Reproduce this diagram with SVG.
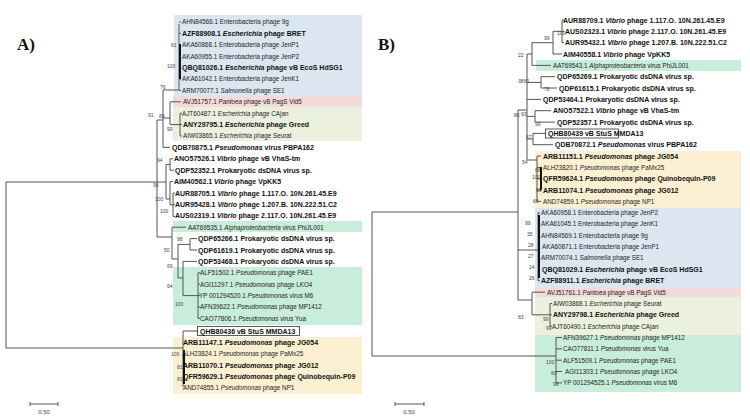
<svg xmlns="http://www.w3.org/2000/svg" width="750" height="419" viewBox="0 0 750 419">
<style>
.t{font-family:"Liberation Sans",Arial,sans-serif;font-size:6.3px;fill:#222}
.b{font-family:"Liberation Sans",Arial,sans-serif;font-size:7px;font-weight:bold;fill:#111}
.n{font-family:"Liberation Sans",Arial,sans-serif;font-size:5px;fill:#444}
.h{font-family:"Liberation Serif","Times New Roman",serif;font-size:17px;font-weight:bold;fill:#111}
.s{font-family:"Liberation Sans",Arial,sans-serif;font-size:6px;fill:#444}
.e{fill:none;stroke:#555;stroke-width:1}
.k{fill:none;stroke:#111;stroke-width:2}
.bx{fill:none;stroke:#333;stroke-width:0.8}
</style>
<rect width="750" height="419" fill="#fff"/>
<g id="clades">
<rect x="174" y="15" width="188" height="81" fill="#dce6f1"/>
<rect x="173" y="96" width="189" height="11" fill="#f2dcdb"/>
<rect x="173" y="107" width="189" height="34" fill="#ebf1de"/>
<rect x="173" y="221" width="189" height="11" fill="#c8eedb"/>
<rect x="173" y="267" width="189" height="58" fill="#c8eedb"/>
<rect x="173" y="337" width="189" height="57" fill="#fdf0d2"/>
<rect x="536" y="60" width="205" height="11" fill="#c8eedb"/>
<rect x="535" y="151" width="206" height="57" fill="#fdf0d2"/>
<rect x="535" y="208" width="206" height="80" fill="#dce6f1"/>
<rect x="535" y="288" width="206" height="9" fill="#f2dcdb"/>
<rect x="535" y="297" width="206" height="38" fill="#ebf1de"/>
<rect x="535" y="335" width="206" height="57" fill="#c8eedb"/>
</g>
<g id="connectors">
<path class="e" d="M6 182V348M6 182H157M6 348H183M157 120V237M157 120H163M163 90V147.4M163 90H179M179 24V90M179 22H181M179 33.4H181M179 44.8H181M179 56.2H181M179 67.6H181M179 79H181M179 90.4H181M163 118H170M170 101.8V124.6M170 101.8H181M170 124.6H180M180 113.2V136M180 113.2H182M180 124.6H182M180 136H182M163 147.4H170M157 182H166M166 164.5V199M166 164.5H170M170 158.8V170.2M170 158.8H173M170 170.2H174M166 199H170M170 181.6V204.8M170 181.6H173M170 204.8H173M173 193.2V216.4M173 193.2H175M173 204.6H175M173 216.4H175M157 237H172M172 227.2V259M172 227.2H186M172 259H178M178 244.4V278M178 244.4H190M190 238.6V250M190 238.6H197M190 250H197M178 278H183M183 261.4V295.6M183 261.4H197M183 295.6H198M198 272.8V318.4M198 272.8H200M198 284.2H200M198 295.6H200M198 307H200M198 318.4H200M183 331V387M183 331H198"/>
<path class="k" d="M180 44V79M184 350V384"/>
<path class="e" d="M372 212V356M372 212H518M372 356H556M556 337.5V382.9M556 337.5H562M556 348.9H562M556 360.2H562M556 371.5H562M556 382.9H562M518 110V300M518 110H527M527 54V160M527 54H532M532 42.7V65.4M532 42.7H553M553 31.3V54M553 31.3H562M562 20V42.7M562 20H564M562 31.3H564M562 42.7H564M553 54H562M532 65.4H551M527 82.4H541M541 76.7V88M541 76.7H555M541 88H557M527 99.4H541M527 116.4H535M535 110.7V122.1M535 110.7H551M535 122.1H555M527 139H533M533 133.4V144.7M533 133.4H545M533 144.7H553M527 160H537M537 156.1V201.4M537 156.1H541M537 167.4H541M537 178.8H541M537 190.1H541M537 201.4H541M518 250H538M538 212.8V280.8M538 212.8H540M538 280.8H540M518 300H532M532 292.2V314.8M532 292.2H545M532 314.8H550M550 303.5V326.2M550 303.5H552M550 314.8H552M550 326.2H552"/>
<path class="k" d="M541 167V190M539 215V278"/>
</g>
<g id="labels-A">
<text class="h" x="17" y="50">A)</text>
<g id="a0"><text class="t" x="182" y="24.3">AHN84566.1 Enterobacteria phage 9g</text></g>
<g id="a1"><text class="b" x="182" y="35.8">AZF88908.1 <tspan font-style="italic">Escherichia</tspan> phage BRET</text></g>
<g id="a2"><text class="t" x="182" y="47.1">AKA60868.1 Enterobacteria phage JenP1</text></g>
<g id="a3"><text class="t" x="182" y="58.5">AKA60955.1 Enterobacteria phage JenP2</text></g>
<g id="a4"><text class="b" x="182" y="70.1">QBQ81026.1 <tspan font-style="italic">Escherichia</tspan> phage vB EcoS HdSG1</text></g>
<g id="a5"><text class="t" x="182" y="81.3">AKA61042.1 Enterobacteria phage JenK1</text></g>
<g id="a6"><text class="t" x="182" y="92.7">ARM70077.1 <tspan font-style="italic">Salmonella</tspan> phage SE1</text></g>
<g id="a7"><text class="t" x="183" y="104.1">AVJ51757.1 <tspan font-style="italic">Pantoea</tspan> phage vB PagS Vid5</text></g>
<g id="a8"><text class="t" x="182" y="115.5">AJT60487.1 <tspan font-style="italic">Escherichia</tspan> phage CAjan</text></g>
<g id="a9"><text class="b" x="183" y="127.1">ANY29795.1 <tspan font-style="italic">Escherichia</tspan> phage Greed</text></g>
<g id="a10"><text class="t" x="183" y="138.3">AIW03865.1 <tspan font-style="italic">Escherichia</tspan> phage Seurat</text></g>
<g id="a11"><text class="b" x="172" y="149.9">QDB70875.1 <tspan font-style="italic">Pseudomonas</tspan> virus PBPA162</text></g>
<g id="a12"><text class="b" x="174" y="161.3">ANO57526.1 <tspan font-style="italic">Vibrio</tspan> phage vB VhaS-tm</text></g>
<g id="a13"><text class="b" x="175" y="172.7">QDP52352.1 Prokaryotic dsDNA virus sp.</text></g>
<g id="a14"><text class="b" x="174" y="184.1">AIM40562.1 <tspan font-style="italic">Vibrio</tspan> phage VpKK5</text></g>
<g id="a15"><text class="b" x="175" y="195.5">AUR88705.1 <tspan font-style="italic">Vibrio</tspan> phage 1.117.O. 10N.261.45.E9</text></g>
<g id="a16"><text class="b" x="175" y="206.9">AUR95428.1 <tspan font-style="italic">Vibrio</tspan> phage 1.207.B. 10N.222.51.C2</text></g>
<g id="a17"><text class="b" x="175" y="218.3">AUS02319.1 <tspan font-style="italic">Vibrio</tspan> phage 2.117.O. 10N.261.45.E9</text></g>
<g id="a18"><text class="t" x="188" y="229.5">AAT69535.1 <tspan font-style="italic">Alphaproteobacteria</tspan> virus PhiJL001</text></g>
<g id="a19"><text class="b" x="198" y="241.1">QDP65266.1 Prokaryotic dsDNA virus sp.</text></g>
<g id="a20"><text class="b" x="198" y="252.5">QDP61619.1 Prokaryotic dsDNA virus sp.</text></g>
<g id="a21"><text class="b" x="198" y="263.9">QDP53468.1 Prokaryotic dsDNA virus sp.</text></g>
<g id="a22"><text class="t" x="200" y="275.1">ALF51502.1 <tspan font-style="italic">Pseudomonas</tspan> phage PAE1</text></g>
<g id="a23"><text class="t" x="200" y="286.5">AGI11297.1 <tspan font-style="italic">Pseudomonas</tspan> phage LKO4</text></g>
<g id="a24"><text class="t" x="199" y="297.9">YP 001294520.1 <tspan font-style="italic">Pseudomonas</tspan> virus M6</text></g>
<g id="a25"><text class="t" x="200" y="309.3">AFN39622.1 <tspan font-style="italic">Pseudomonas</tspan> phage MP1412</text></g>
<g id="a26"><text class="t" x="200" y="320.7">CAO77806.1 <tspan font-style="italic">Pseudomonas</tspan> virus Yua</text></g>
<g id="a27"><rect class="bx" x="197.5" y="326.5" width="102" height="9"/><text class="b" x="200" y="333.5">QHB80436 vB StuS MMDA13</text></g>
<g id="a28"><text class="b" x="183" y="344.9">ARB11147.1 <tspan font-style="italic">Pseudomonas</tspan> phage JG054</text></g>
<g id="a29"><text class="t" x="182" y="356.1">ALH23824.1 <tspan font-style="italic">Pseudomonas</tspan> phage PaMx25</text></g>
<g id="a30"><text class="b" x="183" y="367.7">ARB11070.1 <tspan font-style="italic">Pseudomonas</tspan> phage JG012</text></g>
<g id="a31"><text class="b" x="183" y="379.1">QFR59629.1 <tspan font-style="italic">Pseudomonas</tspan> phage Quinobequin-P09</text></g>
<g id="a32"><text class="t" x="183" y="390.3">AND74855.1 <tspan font-style="italic">Pseudomonas</tspan> phage NP1</text></g>
</g>
<g id="support-A" class="n">
<text x="171" y="47">81</text><text x="167" y="68">100</text><text x="160" y="89">76</text><text x="148" y="117">91</text><text x="159" y="118">89</text><text x="167" y="131">99</text><text x="157" y="162">94</text><text x="153" y="187">96</text><text x="155" y="201">100</text><text x="160" y="213">100</text><text x="177" y="241">98</text><text x="164" y="252">50</text><text x="167" y="268">69</text><text x="167" y="288">64</text><text x="175" y="306">100</text><text x="171" y="356">100</text><text x="177" y="369">81</text><text x="177" y="381">81</text>
</g>
<g id="labels-B">
<text class="h" x="378" y="50">B)</text>
<g id="b0"><text class="b" x="563" y="22.5">AUR88709.1 <tspan font-style="italic">Vibrio</tspan> phage 1.117.O. 10N.261.45.E9</text></g>
<g id="b1"><text class="b" x="565" y="33.8">AUS02323.1 <tspan font-style="italic">Vibrio</tspan> phage 2.117.O. 10N.261.45.E9</text></g>
<g id="b2"><text class="b" x="565" y="45.2">AUR95432.1 <tspan font-style="italic">Vibrio</tspan> phage 1.207.B. 10N.222.51.C2</text></g>
<g id="b3"><text class="b" x="563" y="56.5">AIM40558.1  <tspan font-style="italic">Vibrio</tspan> phage VpKK5</text></g>
<g id="b4"><text class="t" x="553" y="67.7">AAT69543.1 <tspan font-style="italic">Alphaproteobacteria</tspan> virus PhiJL001</text></g>
<g id="b5"><text class="b" x="557" y="79.2">QDP65269.1 Prokaryotic dsDNA virus sp.</text></g>
<g id="b6"><text class="b" x="559" y="90.5">QDP61615.1 Prokaryotic dsDNA virus sp.</text></g>
<g id="b7"><text class="b" x="543" y="101.9">QDP53464.1 Prokaryotic dsDNA virus sp.</text></g>
<g id="b8"><text class="b" x="553" y="113.2">ANO57522.1 <tspan font-style="italic">Vibrio</tspan> phage vB VhaS-tm</text></g>
<g id="b9"><text class="b" x="557" y="124.6">QDP52357.1 Prokaryotic dsDNA virus sp.</text></g>
<g id="b10"><rect class="bx" x="545.5" y="129" width="73" height="9"/><text class="b" x="548" y="135.9">QHB80439 vB StuS MMDA13</text></g>
<g id="b11"><text class="b" x="555" y="147.2">QDB70872.1 <tspan font-style="italic">Pseudomonas</tspan> virus PBPA162</text></g>
<g id="b12"><text class="b" x="543" y="158.6">ARB11151.1 <tspan font-style="italic">Pseudomonas</tspan> phage JG054</text></g>
<g id="b13"><text class="t" x="543" y="169.7">ALH23820.1 <tspan font-style="italic">Pseudomonas</tspan> phage PaMx25</text></g>
<g id="b14"><text class="b" x="543" y="181.3">QFR59624.1 <tspan font-style="italic">Pseudomonas</tspan> phage Quinobequin-P09</text></g>
<g id="b15"><text class="b" x="543" y="192.6">ARB11074.1 <tspan font-style="italic">Pseudomonas</tspan> phage JG012</text></g>
<g id="b16"><text class="t" x="543" y="203.7">AND74859.1 <tspan font-style="italic">Pseudomonas</tspan> phage NP1</text></g>
<g id="b17"><text class="t" x="541" y="215.1">AKA60958.1 Enterobacteria phage JenP2</text></g>
<g id="b18"><text class="t" x="541" y="226.4">AKA61045.1 Enterobacteria phage JenK1</text></g>
<g id="b19"><text class="t" x="541" y="237.8">AHN84569.1 Enterobacteria phage 9g</text></g>
<g id="b20"><text class="t" x="542" y="249.1">AKA60871.1 Enterobacteria phage JenP1</text></g>
<g id="b21"><text class="t" x="541" y="260.4">ARM70074.1 <tspan font-style="italic">Salmonella</tspan> phage SE1</text></g>
<g id="b22"><text class="b" x="542" y="272">QBQ81029.1 <tspan font-style="italic">Escherichia</tspan> phage vB EcoS HdSG1</text></g>
<g id="b23"><text class="b" x="541" y="283.3">AZF88911.1 <tspan font-style="italic">Escherichia</tspan> phage BRET</text></g>
<g id="b24"><text class="t" x="547" y="294.5">AVJ51761.1 <tspan font-style="italic">Pantoea</tspan> phage vB PagS Vid5</text></g>
<g id="b25"><text class="t" x="553" y="305.8">AIW03868.1 <tspan font-style="italic">Escherichia</tspan> phage Seurat</text></g>
<g id="b26"><text class="b" x="553" y="317.3">ANY29798.1 <tspan font-style="italic">Escherichia</tspan> phage Greed</text></g>
<g id="b27"><text class="t" x="552" y="328.5">AJT60490.1 <tspan font-style="italic">Escherichia</tspan> phage CAjan</text></g>
<g id="b28"><text class="t" x="563" y="339.8">AFN39627.1 <tspan font-style="italic">Pseudomonas</tspan> phage MP1412</text></g>
<g id="b29"><text class="t" x="563" y="351.2">CAO77811.1 <tspan font-style="italic">Pseudomonas</tspan> virus Yua</text></g>
<g id="b30"><text class="t" x="563" y="362.5">ALF51509.1 <tspan font-style="italic">Pseudomonas</tspan> phage PAE1</text></g>
<g id="b31"><text class="t" x="565" y="373.8">AGI11303.1 <tspan font-style="italic">Pseudomonas</tspan> phage LKO4</text></g>
<g id="b32"><text class="t" x="563" y="385.2">YP 001294525.1 <tspan font-style="italic">Pseudomonas</tspan> virus M6</text></g>
</g>
<g id="support-B" class="n">
<text x="557" y="35">100</text><text x="544" y="40">99</text><text x="518" y="57">22</text><text x="518" y="83">38</text><text x="524" y="83">81</text><text x="544" y="91">78</text><text x="514" y="117">86</text><text x="521" y="116">93</text><text x="535" y="126">99</text><text x="526" y="139">67</text><text x="522" y="164">54</text><text x="535" y="172">66</text><text x="532" y="179">100</text><text x="536" y="192">66</text><text x="533" y="203">66</text><text x="525" y="225">99</text><text x="527" y="236">35</text><text x="528" y="247">28</text><text x="528" y="258">27</text><text x="529" y="269">24</text><text x="529" y="280">26</text><text x="518" y="319">83</text><text x="543" y="321">99</text><text x="546" y="330">99</text><text x="546" y="364">100</text><text x="551" y="375">60</text><text x="553" y="386">98</text>
</g>
<g id="scale">
<path class="e" d="M30 404H58M30 402V406M58 402V406M395 404H424M395 402V406M424 402V406"/>
<text class="s" x="44" y="414" text-anchor="middle">0.50</text>
<text class="s" x="409" y="414" text-anchor="middle">0.50</text>
</g>
</svg>
